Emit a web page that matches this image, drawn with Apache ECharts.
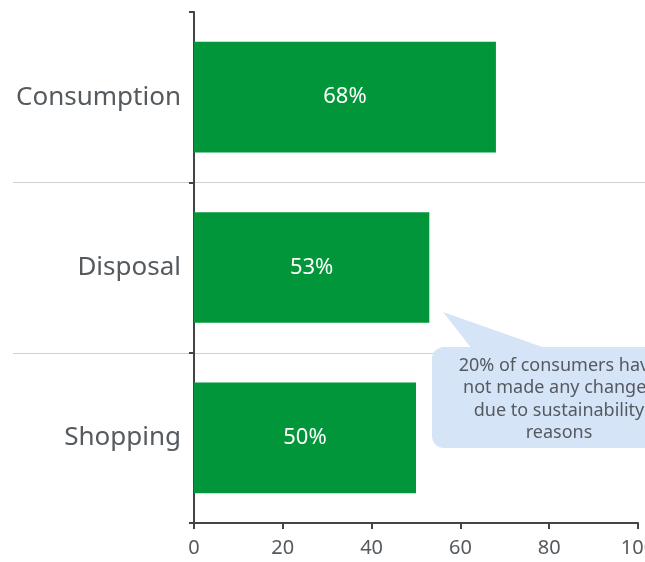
<!DOCTYPE html>
<html>
<head>
<meta charset="utf-8">
<script src="https://cdn.jsdelivr.net/npm/echarts@6/dist/echarts.min.js"></script>
<style>
  html, body { margin: 0; padding: 0; background: #fff; }
  #chart { width: 645px; height: 562px; }
</style>
</head>
<body>
<div id="chart"></div>
<script>
const categories = ['Consumption', 'Disposal', 'Shopping'];
const shares = [68, 53, 50];
const xTicks = [0, 20, 40, 60, 80, 100];
const noteLines = ['20% of consumers have', 'not made any changes', 'due to sustainability', 'reasons'];

const FONT = '"Noto Sans", "Open Sans", sans-serif';
const TEXT = '#555a5f';
const AXIS = '#444';

const chart = echarts.init(document.getElementById('chart'), null, { renderer: 'canvas' });

chart.setOption({
  animation: false,
  textStyle: { fontFamily: FONT },
  grid: { left: 194, right: 7, top: 12, bottom: 39, containLabel: false, outerBoundsMode: 'none' },
  xAxis: {
    type: 'value',
    min: xTicks[0],
    max: xTicks[xTicks.length - 1],
    interval: xTicks[1] - xTicks[0],
    axisLine: { show: true, lineStyle: { color: AXIS, width: 2 } },
    axisTick: { show: true, length: 6, lineStyle: { color: AXIS, width: 2 } },
    axisLabel: { color: TEXT, fontSize: 20, margin: 15, fontFamily: FONT, hideOverlap: false },
    splitLine: { show: false }
  },
  yAxis: {
    type: 'category',
    inverse: true,
    data: categories,
    axisLine: { show: true, lineStyle: { color: AXIS, width: 2 } },
    axisTick: { show: true, length: 5, alignWithLabel: false, lineStyle: { color: AXIS, width: 2 } },
    axisLabel: { color: TEXT, fontSize: 26, margin: 13, fontFamily: FONT },
    splitLine: { show: false }
  },
  series: [{
    type: 'bar',
    data: shares,
    barWidth: '65%',
    itemStyle: { color: '#009639' },
    label: {
      show: true,
      position: 'inside',
      formatter: p => p.value + '%',
      color: '#fff',
      fontSize: 22,
      fontFamily: FONT
    },
    z: 3
  }]
});

// band separators running across the label area and the plot
const centers = categories.map((c, i) => chart.convertToPixel({ yAxisIndex: 0 }, i));
const separators = [];
for (let i = 0; i < centers.length - 1; i++) {
  const y = Math.round((centers[i] + centers[i + 1]) / 2) + 0.5;
  separators.push({
    type: 'line',
    shape: { x1: 13, y1: y, x2: 645, y2: y },
    style: { stroke: '#d0d0d0', lineWidth: 1 },
    z: 0
  });
}

// speech-bubble note
const bubble = { x: 432, y: 347, w: 254, h: 101 };
const cx = bubble.x + bubble.w / 2;
const note = [
  {
    type: 'polygon',
    shape: { points: [[443, 312], [472, bubble.y + 2], [548, bubble.y + 2]] },
    style: { fill: '#d6e4f8' },
    z: 10
  },
  {
    type: 'rect',
    shape: { x: bubble.x, y: bubble.y, width: bubble.w, height: bubble.h, r: 12 },
    style: { fill: '#d6e4f8' },
    z: 10
  }
];
noteLines.forEach((line, i) => {
  note.push({
    type: 'text',
    x: cx,
    y: 366 + i * 22.3,
    style: {
      text: line,
      fill: TEXT,
      font: '18px ' + FONT,
      align: 'center',
      verticalAlign: 'middle'
    },
    z: 11
  });
});

chart.setOption({ graphic: separators.concat(note) });
</script>
</body>
</html>
